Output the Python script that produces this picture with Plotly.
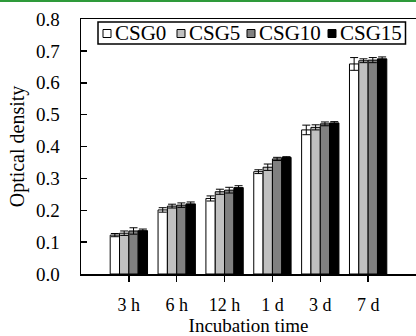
import plotly.graph_objects as go

# ---- data ----
categories = ["3 h", "6 h", "12 h", "1 d", "3 d", "7 d"]
series_names = ["CSG0", "CSG5", "CSG10", "CSG15"]
csg0 = [0.122, 0.201, 0.237, 0.321, 0.452, 0.659]
csg5 = [0.128, 0.213, 0.258, 0.335, 0.460, 0.669]
csg10 = [0.135, 0.216, 0.263, 0.361, 0.471, 0.671]
csg15 = [0.136, 0.220, 0.271, 0.366, 0.474, 0.675]
err0 = [0.005, 0.007, 0.008, 0.006, 0.015, 0.020]
err5 = [0.007, 0.006, 0.008, 0.010, 0.008, 0.006]
err10 = [0.010, 0.007, 0.009, 0.005, 0.006, 0.008]
err15 = [0.005, 0.006, 0.006, 0.002, 0.004, 0.006]
series_values = [csg0, csg5, csg10, csg15]
series_errors = [err0, err5, err10, err15]
colors = ["#ffffff", "#c0c0c0", "#808080", "#000000"]
y_tickvals = [0.0, 0.1, 0.2, 0.3, 0.4, 0.5, 0.6, 0.7, 0.8]

FONT = "Liberation Serif, Times New Roman, serif"
W, H = 416, 336
ML, MR, MT, MB = 81, 0, 19, 62
PW, PH = W - ML - MR, H - MT - MB


def px_x(px):
    return (px - ML) / PW


def px_y(py):
    return (H - MB - py) / PH


fig = go.Figure()
for name, vals, errs, col in zip(series_names, series_values, series_errors, colors):
    fig.add_trace(go.Bar(
        x=categories, y=vals, name=name,
        marker=dict(color=col, line=dict(color="black", width=1)),
        error_y=dict(type="data", array=errs, visible=True,
                     color="black", thickness=1, width=4),
        showlegend=False,
    ))

# custom compact legend (box, keys, labels)
shapes = [dict(type="rect", xref="paper", yref="paper",
               x0=px_x(98), x1=px_x(405.5), y0=px_y(44), y1=px_y(22),
               line=dict(color="black", width=1.5), fillcolor="white", layer="above")]
annotations = []
key_x = [103, 177, 247, 328]
for kx, name, col in zip(key_x, series_names, colors):
    shapes.append(dict(type="rect", xref="paper", yref="paper",
                       x0=px_x(kx), x1=px_x(kx + 8), y0=px_y(37.5), y1=px_y(29.5),
                       line=dict(color="black", width=1), fillcolor=col, layer="above"))
    annotations.append(dict(text=name, xref="paper", yref="paper",
                            x=px_x(kx + 10), y=px_y(33), xanchor="left", yanchor="middle",
                            showarrow=False, font=dict(family=FONT, size=21, color="black")))

# green rule at the top edge of the picture
shapes.append(dict(type="line", xref="paper", yref="paper",
                   x0=px_x(0), x1=px_x(W), y0=px_y(1), y1=px_y(1),
                   line=dict(color="#2e9a3a", width=2)))

fig.update_layout(
    width=W, height=H, autosize=False,
    margin=dict(l=ML, r=MR, t=MT, b=MB, pad=0),
    paper_bgcolor="white", plot_bgcolor="white",
    barmode="group", bargap=0.22, bargroupgap=0,
    font=dict(family=FONT, color="black"),
    shapes=shapes, annotations=annotations,
    xaxis=dict(
        type="category", range=[-1, 6],
        showline=True, linecolor="black", linewidth=1.5, mirror=True,
        ticks="outside", ticklen=6, tickwidth=1.5, tickcolor="black",
        tickfont=dict(family=FONT, size=18, color="black"),
        ticklabelstandoff=8,
        showgrid=False,
        title=dict(text="Incubation time", font=dict(family=FONT, size=19, color="black"),
                   standoff=4),
    ),
    yaxis=dict(
        range=[0, 0.8], tickvals=y_tickvals, tickformat=".1f",
        showline=True, linecolor="black", linewidth=1.5,
        ticks="inside", ticklen=6, tickwidth=1.5, tickcolor="black",
        tickfont=dict(family=FONT, size=19, color="black"),
        ticklabelstandoff=16,
        showgrid=False, zeroline=False,
        title=dict(text="Optical density", font=dict(family=FONT, size=20, color="black"),
                   standoff=6),
    ),
)

page_fix = ("document.documentElement.style.margin='0';"
            "document.body.style.margin='0';"
            "document.body.style.overflow='hidden';"
            "document.documentElement.style.overflow='hidden';")

fig.write_html("out.html", post_script=page_fix,
               config={"displayModeBar": False, "staticPlot": True})
